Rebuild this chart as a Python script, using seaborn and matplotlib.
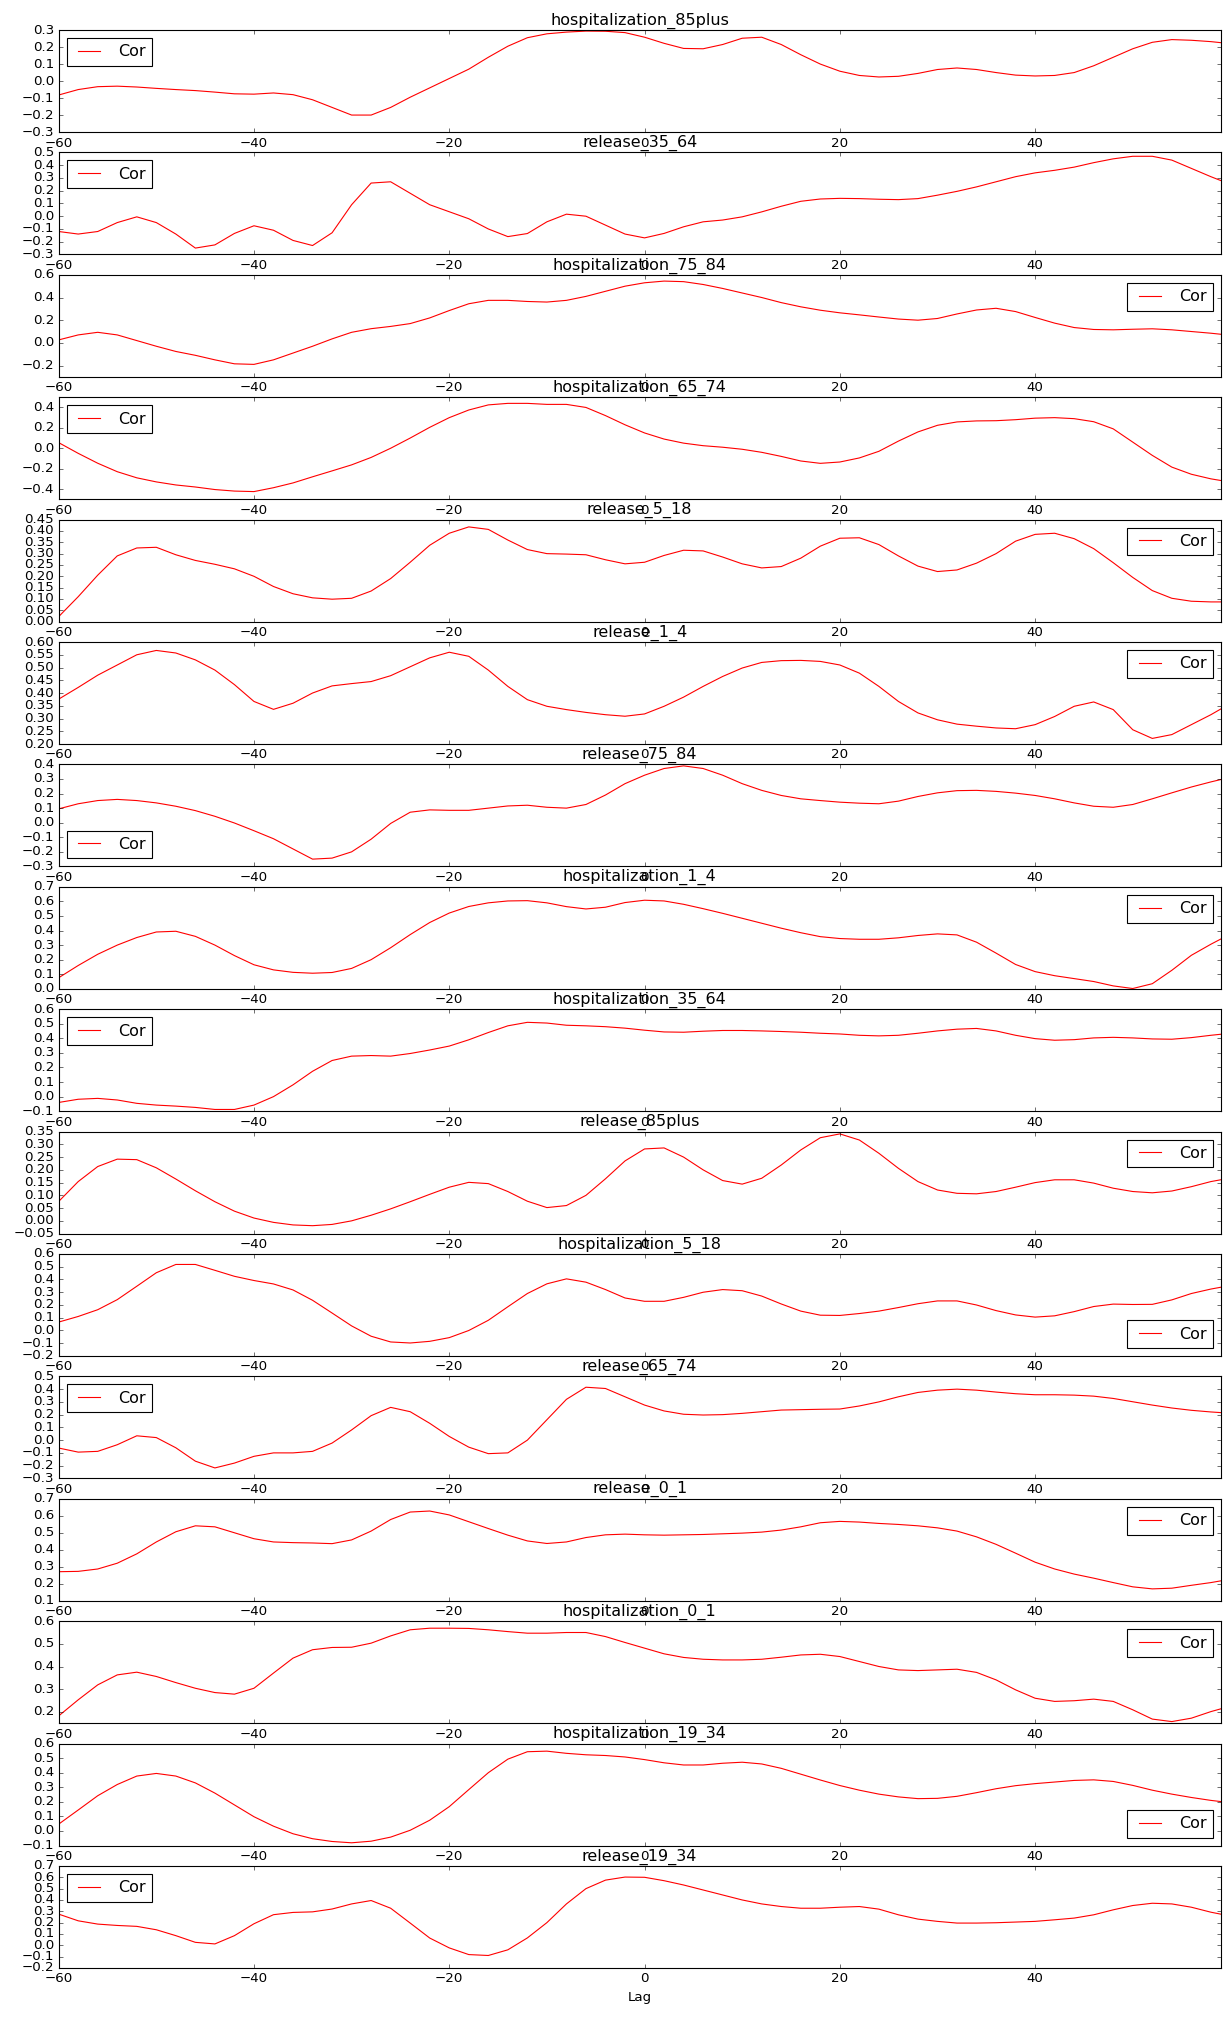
import numpy as np
import matplotlib
matplotlib.use("Agg")
import matplotlib.pyplot as plt
import seaborn as sns

plt.style.use("classic")

# ---------------- data ----------------
lags = list(range(-60, 59, 2)) + [59]

hospitalization_85plus = [
    -0.082, -0.05, -0.033, -0.03, -0.035, -0.043, -0.05, -0.056, -0.065, -0.075,
    -0.077, -0.07, -0.08, -0.11, -0.155, -0.2, -0.2, -0.155, -0.095, -0.04,
    0.015, 0.07, 0.14, 0.205, 0.255, 0.278, 0.288, 0.294, 0.293, 0.285,
    0.258, 0.222, 0.192, 0.19, 0.215, 0.252, 0.258, 0.215, 0.155, 0.1,
    0.058, 0.033, 0.024, 0.028, 0.045, 0.068, 0.077, 0.068, 0.05, 0.035,
    0.03, 0.033, 0.05, 0.09, 0.14, 0.19, 0.228, 0.244, 0.24, 0.232,
    0.226]

release_35_64 = [
    -0.12, -0.14, -0.12, -0.05, -0.005, -0.05, -0.14, -0.25, -0.225, -0.135,
    -0.075, -0.11, -0.19, -0.23, -0.13, 0.09, 0.26, 0.27, 0.18, 0.09,
    0.035, -0.02, -0.1, -0.16, -0.136, -0.044, 0.016, 0.0, -0.07, -0.14,
    -0.17, -0.135, -0.083, -0.044, -0.03, -0.005, 0.034, 0.078, 0.117, 0.135,
    0.14, 0.138, 0.133, 0.13, 0.138, 0.165, 0.195, 0.23, 0.27, 0.31,
    0.34, 0.36, 0.385, 0.42, 0.45, 0.47, 0.47, 0.44, 0.375, 0.31,
    0.28]

hospitalization_75_84 = [
    0.026, 0.07, 0.093, 0.07, 0.02, -0.03, -0.076, -0.11, -0.15, -0.185,
    -0.19, -0.15, -0.09, -0.03, 0.035, 0.093, 0.125, 0.145, 0.17, 0.22,
    0.285, 0.345, 0.375, 0.375, 0.365, 0.36, 0.375, 0.41, 0.455, 0.5,
    0.53, 0.545, 0.54, 0.515, 0.48, 0.44, 0.4, 0.355, 0.318, 0.288,
    0.265, 0.247, 0.228, 0.21, 0.2, 0.215, 0.255, 0.29, 0.305, 0.276,
    0.224, 0.174, 0.135, 0.118, 0.115, 0.12, 0.124, 0.115, 0.1, 0.085,
    0.076]

hospitalization_65_74 = [
    0.055, -0.05, -0.147, -0.23, -0.29, -0.33, -0.36, -0.38, -0.405, -0.42,
    -0.425, -0.387, -0.34, -0.28, -0.222, -0.163, -0.09, 0.0, 0.1, 0.205,
    0.3, 0.375, 0.425, 0.44, 0.44, 0.43, 0.43, 0.4, 0.32, 0.23,
    0.15, 0.09, 0.05, 0.025, 0.01, -0.01, -0.04, -0.08, -0.125, -0.148,
    -0.135, -0.095, -0.03, 0.07, 0.16, 0.225, 0.258, 0.268, 0.27, 0.28,
    0.295, 0.3, 0.29, 0.26, 0.19, 0.06, -0.07, -0.185, -0.255, -0.3,
    -0.316]

release_5_18 = [
    0.022, 0.11, 0.205, 0.29, 0.325, 0.328, 0.295, 0.27, 0.253, 0.233,
    0.2, 0.155, 0.123, 0.105, 0.099, 0.103, 0.135, 0.19, 0.262, 0.337,
    0.39, 0.418, 0.407, 0.36, 0.318, 0.3, 0.298, 0.295, 0.273, 0.255,
    0.262, 0.292, 0.315, 0.312, 0.285, 0.255, 0.237, 0.243, 0.28, 0.333,
    0.368, 0.37, 0.34, 0.29, 0.245, 0.221, 0.228, 0.258, 0.3, 0.355,
    0.385, 0.39, 0.366, 0.322, 0.26, 0.195, 0.137, 0.103, 0.09, 0.087,
    0.087]

release_1_4 = [
    0.376, 0.422, 0.47, 0.51, 0.55, 0.567, 0.557, 0.53, 0.49, 0.433,
    0.367, 0.336, 0.36, 0.4, 0.428, 0.437, 0.445, 0.468, 0.503, 0.538,
    0.56, 0.544, 0.49, 0.426, 0.374, 0.348, 0.335, 0.324, 0.315, 0.309,
    0.318, 0.348, 0.384, 0.426, 0.465, 0.498, 0.52, 0.527, 0.528, 0.524,
    0.51, 0.478, 0.426, 0.367, 0.322, 0.295, 0.278, 0.27, 0.263, 0.26,
    0.276, 0.308, 0.348, 0.365, 0.335, 0.256, 0.222, 0.237, 0.276, 0.315,
    0.337]

release_75_84 = [
    0.095, 0.13, 0.152, 0.16, 0.152, 0.136, 0.113, 0.083, 0.044, -0.002,
    -0.055, -0.11, -0.18, -0.25, -0.243, -0.2, -0.113, -0.005, 0.072, 0.088,
    0.085, 0.085, 0.1, 0.115, 0.12, 0.106, 0.1, 0.125, 0.19, 0.268,
    0.326, 0.372, 0.39, 0.372, 0.326, 0.268, 0.222, 0.187, 0.164, 0.152,
    0.141, 0.134, 0.13, 0.148, 0.18, 0.205, 0.22, 0.222, 0.215, 0.203,
    0.187, 0.164, 0.136, 0.113, 0.106, 0.125, 0.164, 0.205, 0.245, 0.28,
    0.296]

hospitalization_1_4 = [
    0.076, 0.16, 0.237, 0.3, 0.352, 0.39, 0.395, 0.36, 0.3, 0.228,
    0.165, 0.13, 0.113, 0.107, 0.112, 0.14, 0.2, 0.282, 0.372, 0.455,
    0.52, 0.565, 0.59, 0.603, 0.605, 0.59, 0.564, 0.548, 0.56, 0.592,
    0.608, 0.603, 0.58, 0.55, 0.518, 0.484, 0.45, 0.416, 0.385, 0.358,
    0.345, 0.34, 0.34, 0.35, 0.366, 0.377, 0.37, 0.32, 0.245, 0.167,
    0.118, 0.09, 0.07, 0.05, 0.02, 0.002, 0.035, 0.127, 0.23, 0.306,
    0.341]

hospitalization_35_64 = [
    -0.04, -0.018, -0.012, -0.023, -0.046, -0.058, -0.065, -0.074, -0.088, -0.088,
    -0.058, 0.0, 0.081, 0.174, 0.248, 0.278, 0.282, 0.278, 0.296, 0.32,
    0.347, 0.39, 0.44, 0.486, 0.51, 0.505, 0.49, 0.486, 0.48, 0.47,
    0.456, 0.444, 0.442, 0.449, 0.454, 0.454, 0.451, 0.447, 0.442, 0.435,
    0.43, 0.421, 0.417, 0.421, 0.435, 0.451, 0.463, 0.468, 0.451, 0.421,
    0.398, 0.387, 0.391, 0.403, 0.407, 0.403, 0.396, 0.394, 0.405, 0.421,
    0.428]

release_85plus = [
    0.076, 0.154, 0.213, 0.242, 0.24, 0.208, 0.164, 0.118, 0.075, 0.038,
    0.011, -0.006, -0.016, -0.019, -0.014, 0.0, 0.022, 0.047, 0.075, 0.104,
    0.132, 0.151, 0.146, 0.115, 0.077, 0.052, 0.06, 0.1, 0.165, 0.235,
    0.282, 0.286, 0.25, 0.2, 0.158, 0.144, 0.167, 0.219, 0.278, 0.326,
    0.341, 0.317, 0.265, 0.206, 0.154, 0.121, 0.108, 0.106, 0.115, 0.132,
    0.15, 0.161, 0.161, 0.148, 0.128, 0.115, 0.11, 0.117, 0.134, 0.154,
    0.161]

hospitalization_5_18 = [
    0.066, 0.11, 0.163, 0.242, 0.347, 0.453, 0.518, 0.518, 0.472, 0.425,
    0.392, 0.365, 0.318, 0.237, 0.137, 0.036, -0.045, -0.09, -0.098, -0.085,
    -0.056, 0.0, 0.08, 0.186, 0.29, 0.366, 0.405, 0.379, 0.321, 0.255,
    0.229, 0.229, 0.26, 0.3, 0.321, 0.312, 0.27, 0.208, 0.152, 0.12,
    0.118, 0.133, 0.152, 0.18, 0.21, 0.232, 0.232, 0.2, 0.156, 0.122,
    0.105, 0.115, 0.148, 0.188, 0.207, 0.204, 0.205, 0.24, 0.29, 0.325,
    0.339]

release_65_74 = [
    -0.062, -0.094, -0.088, -0.036, 0.034, 0.02, -0.06, -0.165, -0.218, -0.18,
    -0.127, -0.1, -0.1, -0.088, -0.023, 0.08, 0.192, 0.257, 0.223, 0.132,
    0.029, -0.055, -0.106, -0.1, 0.0, 0.16, 0.32, 0.415, 0.405, 0.34,
    0.275, 0.229, 0.203, 0.197, 0.2, 0.21, 0.223, 0.236, 0.239, 0.242,
    0.244, 0.268, 0.3, 0.34, 0.374, 0.392, 0.4, 0.392, 0.377, 0.364,
    0.356, 0.356, 0.353, 0.345, 0.327, 0.301, 0.275, 0.252, 0.234, 0.221,
    0.216]

release_0_1 = [
    0.271, 0.273, 0.287, 0.321, 0.376, 0.446, 0.506, 0.541, 0.535, 0.5,
    0.465, 0.446, 0.442, 0.44, 0.436, 0.458, 0.51, 0.578, 0.622, 0.628,
    0.605, 0.565, 0.525, 0.486, 0.452, 0.437, 0.446, 0.472, 0.488, 0.492,
    0.488, 0.486, 0.488, 0.49, 0.494, 0.498, 0.504, 0.516, 0.535, 0.559,
    0.567, 0.563, 0.555, 0.549, 0.541, 0.529, 0.51, 0.476, 0.432, 0.38,
    0.327, 0.287, 0.257, 0.233, 0.207, 0.182, 0.17, 0.174, 0.191, 0.207,
    0.217]

hospitalization_0_1 = [
    0.182, 0.253, 0.319, 0.363, 0.375, 0.356, 0.329, 0.304, 0.285, 0.278,
    0.304, 0.371, 0.437, 0.474, 0.484, 0.485, 0.503, 0.535, 0.562, 0.569,
    0.569, 0.568, 0.562, 0.554, 0.547, 0.547, 0.55, 0.55, 0.532, 0.506,
    0.481, 0.456, 0.44, 0.432, 0.429, 0.429, 0.432, 0.441, 0.451, 0.454,
    0.444, 0.422, 0.4, 0.385, 0.382, 0.385, 0.388, 0.374, 0.341, 0.297,
    0.26, 0.246, 0.249, 0.256, 0.246, 0.209, 0.168, 0.157, 0.172, 0.201,
    0.213]

hospitalization_19_34 = [
    0.047, 0.144, 0.242, 0.319, 0.377, 0.395, 0.377, 0.33, 0.26, 0.179,
    0.098, 0.033, -0.019, -0.053, -0.072, -0.081, -0.07, -0.042, 0.005, 0.074,
    0.167, 0.284, 0.4, 0.493, 0.544, 0.548, 0.533, 0.523, 0.518, 0.508,
    0.49, 0.468, 0.453, 0.453, 0.465, 0.472, 0.46, 0.43, 0.39, 0.35,
    0.312, 0.28, 0.253, 0.234, 0.222, 0.224, 0.238, 0.263, 0.29, 0.311,
    0.325, 0.336, 0.347, 0.351, 0.34, 0.313, 0.28, 0.253, 0.23, 0.21,
    0.202]

release_19_34 = [
    0.275, 0.216, 0.187, 0.175, 0.167, 0.137, 0.085, 0.026, 0.012, 0.085,
    0.19, 0.27, 0.29, 0.295, 0.32, 0.365, 0.395, 0.327, 0.196, 0.064,
    -0.023, -0.082, -0.09, -0.04, 0.065, 0.2, 0.365, 0.5, 0.575, 0.602,
    0.6, 0.57, 0.532, 0.488, 0.444, 0.4, 0.365, 0.342, 0.327, 0.327,
    0.336, 0.342, 0.319, 0.269, 0.231, 0.211, 0.196, 0.196, 0.199, 0.205,
    0.211, 0.225, 0.24, 0.269, 0.313, 0.351, 0.371, 0.365, 0.336, 0.292,
    0.275]

series_names = [
    "hospitalization_85plus", "release_35_64", "hospitalization_75_84",
    "hospitalization_65_74", "release_5_18", "release_1_4", "release_75_84",
    "hospitalization_1_4", "hospitalization_35_64", "release_85plus",
    "hospitalization_5_18", "release_65_74", "release_0_1",
    "hospitalization_0_1", "hospitalization_19_34", "release_19_34",
]
series_values = [
    hospitalization_85plus, release_35_64, hospitalization_75_84,
    hospitalization_65_74, release_5_18, release_1_4, release_75_84,
    hospitalization_1_4, hospitalization_35_64, release_85plus,
    hospitalization_5_18, release_65_74, release_0_1,
    hospitalization_0_1, hospitalization_19_34, release_19_34,
]

# ---------------- layout (styles / positions) ----------------
legend_locs = ["upper left", "upper left", "upper right", "upper left",
               "upper right", "upper right", "lower left", "upper right",
               "upper left", "upper right", "lower right", "upper left",
               "upper right", "upper right", "lower right", "upper left"]
y_limits = [(-0.3, 0.3), (-0.3, 0.5), (-0.3, 0.6), (-0.5, 0.5),
            (0.0, 0.45), (0.2, 0.6), (-0.3, 0.4), (0.0, 0.7),
            (-0.1, 0.6), (-0.05, 0.35), (-0.2, 0.6), (-0.3, 0.5),
            (0.1, 0.7), (0.15, 0.6), (-0.1, 0.6), (-0.2, 0.7)]
y_steps = [0.1, 0.1, 0.2, 0.2, 0.05, 0.05, 0.1, 0.1,
           0.1, 0.05, 0.1, 0.1, 0.1, 0.1, 0.1, 0.1]

fig, axes = plt.subplots(len(series_names), 1, figsize=(15.375, 25.225), dpi=80)
fig.subplots_adjust(left=0.0477, right=0.9924, top=0.9851, bottom=0.0248, hspace=0.2)

x = np.array(lags)
for i, ax in enumerate(axes):
    y = np.array(series_values[i])
    sns.lineplot(x=x, y=y, ax=ax, color="red", linewidth=1.0, label="Cor")
    ax.set_xlim(-60, 59)
    lo, hi = y_limits[i]
    step = y_steps[i]
    start = np.ceil(lo / step - 1e-9) * step
    ticks = np.arange(start, hi + step / 2, step)
    ax.set_yticks(ticks)
    ax.set_ylim(lo, hi)
    ax.set_xticks([-60, -40, -20, 0, 20, 40])
    ax.set_title(series_names[i])
    ax.set_ylabel("")
    ax.set_xlabel("")
    ax.legend(loc=legend_locs[i])

axes[-1].set_xlabel("Lag")

fig.savefig("out.png", dpi=80, facecolor="white")
